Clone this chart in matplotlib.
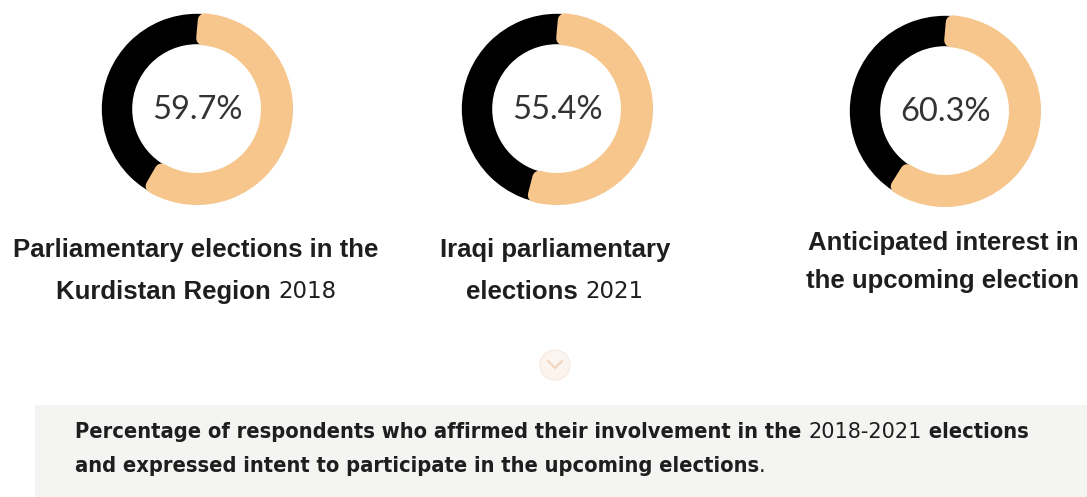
import matplotlib
matplotlib.use("Agg")
import matplotlib.pyplot as plt
from matplotlib.patches import Wedge, Circle, Rectangle
from matplotlib import font_manager

# données
valeurs = [59.7, 55.4, 60.3]
titres = [
    [[("Parliamentary elections in the", "b")], [("Kurdistan Region ", "b"), ("2018", "n")]],
    [[("Iraqi parliamentary", "b")], [("elections ", "b"), ("2021", "n")]],
    [[("Anticipated interest in", "b")], [("the upcoming election", "b")]],
]
note = [
    [("Percentage of respondents who affirmed their involvement in the ", "b"), ("2018-2021", "n"), (" elections", "b")],
    [("and expressed intent to participate in the upcoming elections", "b"), (".", "n")],
]

orange = "#f6c68c"
noir = "#000000"

W, H, DPI = 1087, 497, 100
fig = plt.figure(figsize=(W / DPI, H / DPI), dpi=DPI)
ax = fig.add_axes([0, 0, 1, 1])
ax.set_xlim(0, W)
ax.set_ylim(H, 0)
ax.axis("off")

dispo = {f.name for f in font_manager.fontManager.ttflist}
fin = "Lato" if "Lato" in dispo else "DejaVu Sans"

centres = [(197, 109), (557, 109), (945, 111)]
r_ext, ep, rc = 96, 32, 7

for (cx, cy), v in zip(centres, valeurs):
    # anneau noir (un peu plus fin pour ne pas déborder sous l'orange) puis l'arc orange
    ax.add_patch(Wedge((cx, cy), r_ext - 0.8, 0, 360, width=ep - 1.6, facecolor=noir, edgecolor="none"))
    rm = r_ext - ep / 2
    d = (rc / rm) * 180 / 3.14159
    arc = Wedge((cx, cy), r_ext - rc, 270 + d, 270 + v * 3.6 - d, width=ep - 2 * rc,
                facecolor=orange, edgecolor=orange, linewidth=2 * rc * 72 / DPI)
    arc.set_joinstyle("round")
    ax.add_patch(arc)
    ax.text(cx, cy + 1, f"{v}%", ha="center", va="center", fontsize=23.5,
            family=fin, fontweight="normal", color="#333333")

renderer = fig.canvas.get_renderer()


def ligne(morceaux, x, y, taille, police_b, police_n, ha="center", taille_n=None, etire="normal"):
    # place des morceaux de texte avec des polices différentes sur une même ligne
    objs = []
    for s, style in morceaux:
        if style == "b":
            t = ax.text(0, y, s, ha="left", va="center", fontsize=taille, family=police_b,
                        fontweight="bold", fontstretch=etire, color="#1e1e1e")
        else:
            t = ax.text(0, y, s, ha="left", va="center", fontsize=taille_n or taille,
                        family=police_n, color="#1e1e1e")
        objs.append(t)
    larg = [o.get_window_extent(renderer).width for o in objs]
    x0 = x - sum(larg) / 2 if ha == "center" else x
    for o, l in zip(objs, larg):
        o.set_x(x0)
        x0 += l


lignes_y = [(250, 292), (250, 292), (243, 281)]
centres_txt = [196, 555, 943]
for t, (y1, y2), xc in zip(titres, lignes_y, centres_txt):
    ligne(t[0], xc, y1, 18.5, "Liberation Sans", "DejaVu Sans")
    ligne(t[1], xc, y2, 18.5, "Liberation Sans", "DejaVu Sans", taille_n=16.5)

# petit bouton chevron
ax.add_patch(Circle((555, 365), 15, facecolor="#fcf4ef", edgecolor="#f7ebe3", linewidth=1))
ax.plot([548, 555, 562], [361, 368, 361], color="#f1d5bf", linewidth=1.5, solid_capstyle="round")

# bandeau gris du bas
ax.add_patch(Rectangle((35, 405), W - 35, 92, facecolor="#f4f4f2", edgecolor="none"))
ligne(note[0], 75, 432, 15.7, "DejaVu Sans", "DejaVu Sans", ha="left", taille_n=15, etire="condensed")
ligne(note[1], 75, 466, 15.7, "DejaVu Sans", "DejaVu Sans", ha="left", taille_n=15, etire="condensed")

fig.savefig("out.png", dpi=DPI, facecolor="white")
